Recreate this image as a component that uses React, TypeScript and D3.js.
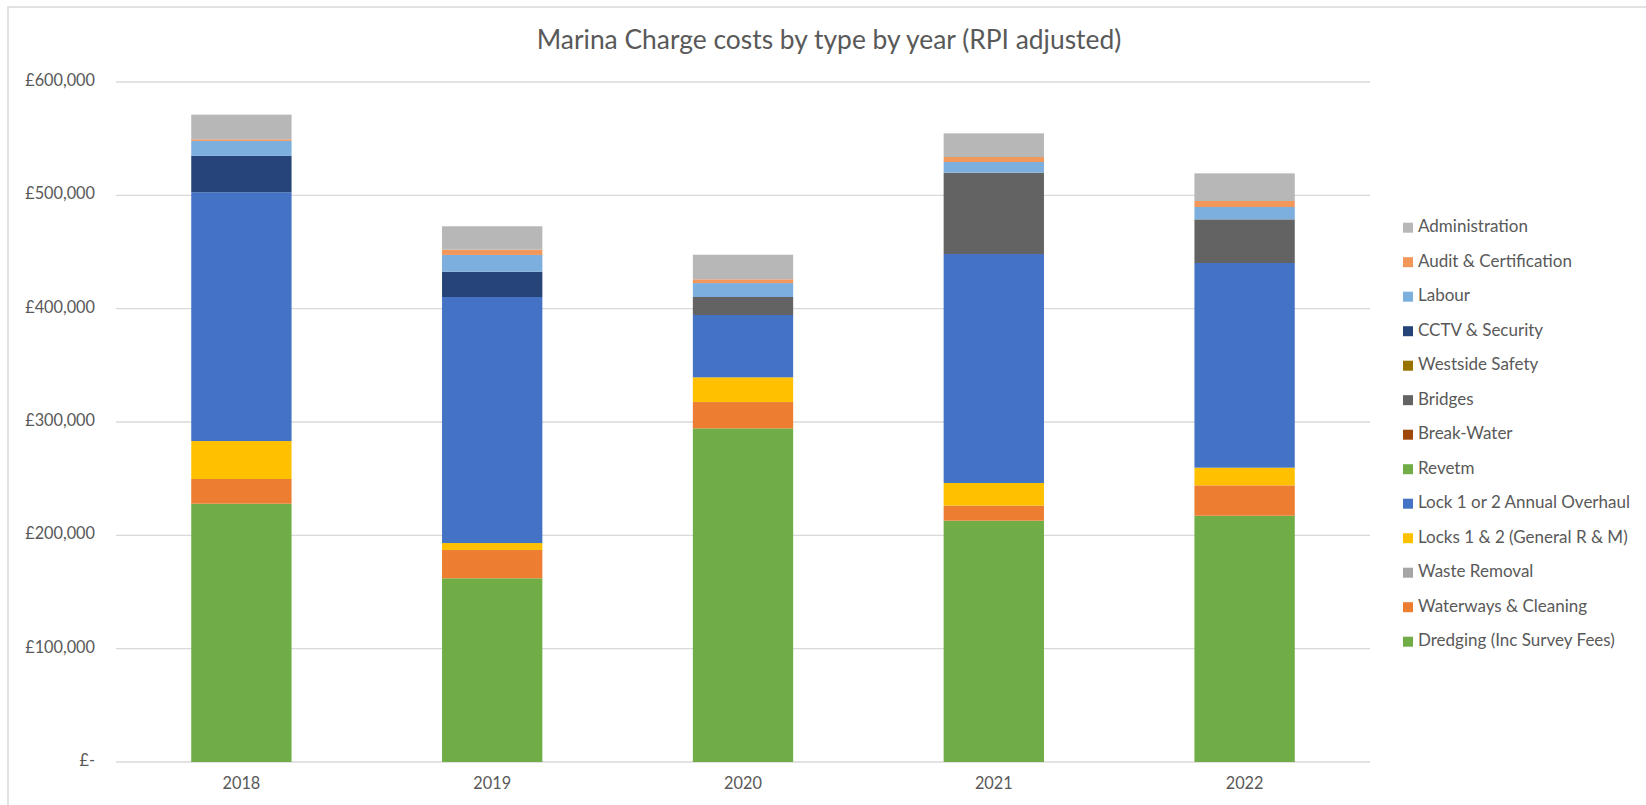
import React from "react";
import * as d3 from "d3";

const years = ["2018", "2019", "2020", "2021", "2022"];

// Series in stacking order (bottom to top)
const seriesNames = [
  "Dredging (Inc Survey Fees)",
  "Waterways & Cleaning",
  "Waste Removal",
  "Locks 1 & 2 (General R & M)",
  "Lock 1 or 2 Annual Overhaul",
  "Revetm",
  "Break-Water",
  "Bridges",
  "Westside Safety",
  "CCTV & Security",
  "Labour",
  "Audit & Certification",
  "Administration",
];

const dredging = [227900, 162100, 294400, 212900, 217300];
const waterways = [21800, 25000, 23200, 13300, 26800];
const wasteRemoval = [0, 0, 0, 0, 0];
const locksGeneral = [33500, 6100, 21800, 20000, 15600];
const lockOverhaul = [219500, 217100, 55000, 202000, 180600];
const revetm = [0, 0, 0, 0, 0];
const breakWater = [0, 0, 0, 0, 0];
const bridges = [0, 0, 15900, 71800, 38500];
const westside = [0, 0, 0, 0, 0];
const cctv = [32100, 22300, 0, 0, 0];
const labour = [13200, 14800, 12300, 9400, 10900];
const audit = [1400, 4700, 3300, 4400, 5300];
const administration = [21800, 20600, 21700, 20900, 24400];

const seriesValues = [
  dredging, waterways, wasteRemoval, locksGeneral, lockOverhaul, revetm,
  breakWater, bridges, westside, cctv, labour, audit, administration,
];

const seriesColors = [
  "#70AD47", "#ED7D31", "#A5A5A5", "#FFC000", "#4472C4", "#70AD47",
  "#9E480E", "#636363", "#997300", "#264478", "#7CAFDD", "#F1975A", "#B7B7B7",
];

const yTicks = [0, 100000, 200000, 300000, 400000, 500000, 600000];
const title = "Marina Charge costs by type by year (RPI adjusted)";

const W = 1646, H = 805;
const plotL = 116, plotR = 1370, plotT = 82, plotB = 762;
const FONT = "Lato, 'Open Sans', sans-serif";
const TXT = "#595959";

export default function App() {
  const x = d3.scaleBand<string>().domain(years).range([plotL, plotR]).paddingInner(0.6).paddingOuter(0.3);
  const y = d3.scaleLinear().domain([0, 600000]).range([plotB, plotT]);

  const table = years.map((yr, i) => {
    const row: Record<string, any> = { year: yr };
    seriesNames.forEach((n, s) => (row[n] = seriesValues[s][i]));
    return row;
  });
  const stacked = d3.stack<any>().keys(seriesNames)(table);

  const fmt = (v: number) => (v === 0 ? "£-" : "£" + d3.format(",")(v));
  const legendItems = seriesNames.map((n, i) => ({ n, c: seriesColors[i] })).reverse();

  return (
    <svg width={W} height={H} style={{ display: "block", position: "absolute", left: 0, top: 0 }}>
      <rect x={0} y={0} width={W} height={H} fill="#fff" />
      <rect x={8} y={7} width={W} height={H} fill="#fff" stroke="#d9d9d9" strokeWidth={1.5} />
      <text x={829} y={42} textAnchor="middle" dominantBaseline="middle" fontFamily={FONT} fontSize={26.4} fill={TXT}>
        {title}
      </text>
      {yTicks.map((t) => (
        <g key={t}>
          <line x1={plotL} x2={plotR} y1={y(t)} y2={y(t)} stroke="#d9d9d9" strokeWidth={1.3} />
          <text x={95} y={y(t)} textAnchor="end" dominantBaseline="middle" fontFamily={FONT} fontSize={16.3} fill={TXT}>
            {fmt(t)}
          </text>
        </g>
      ))}
      {stacked.map((layer, s) => (
        <g key={layer.key} fill={seriesColors[s]}>
          {layer.map((d, i) => {
            const h = y(d[0]) - y(d[1]);
            if (h <= 0) return null;
            return <rect key={i} x={x(years[i])} y={y(d[1])} width={x.bandwidth()} height={h} />;
          })}
        </g>
      ))}
      {years.map((yr) => (
        <text key={yr} x={(x(yr) as number) + x.bandwidth() / 2} y={785} textAnchor="middle" dominantBaseline="middle" fontFamily={FONT} fontSize={16.3} fill={TXT}>
          {yr}
        </text>
      ))}
      {legendItems.map((it, i) => {
        const cy = 227.7 + i * 34.5;
        return (
          <g key={it.n}>
            <rect x={1403} y={cy - 5} width={10} height={10} fill={it.c} />
            <text x={1418} y={cy} dominantBaseline="middle" fontFamily={FONT} fontSize={17} fill={TXT}>
              {it.n}
            </text>
          </g>
        );
      })}
    </svg>
  );
}
